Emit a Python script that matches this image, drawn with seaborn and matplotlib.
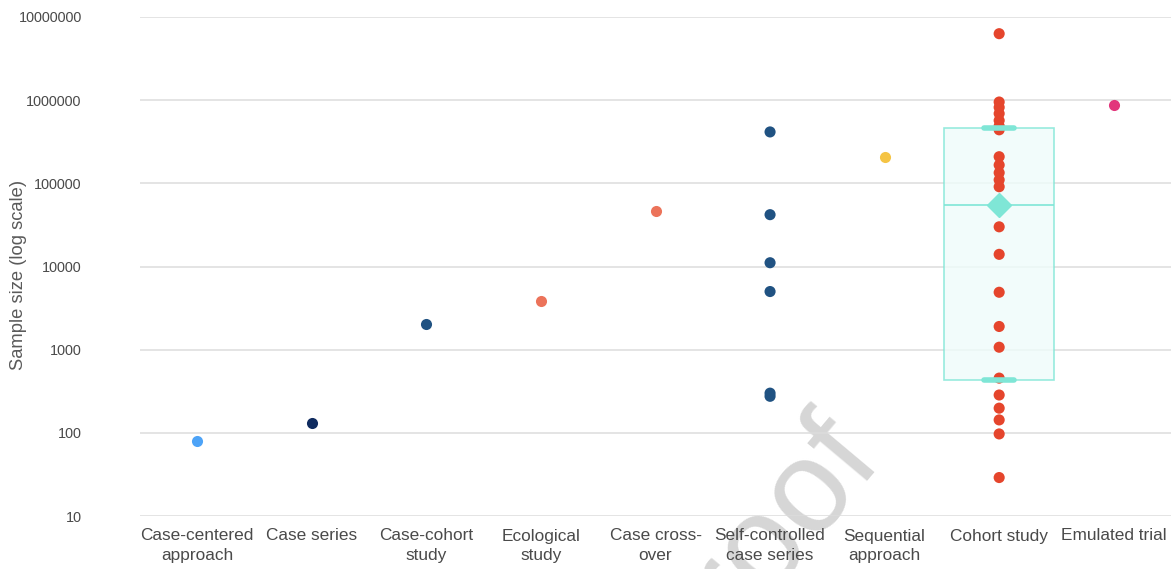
import pandas as pd
import matplotlib
matplotlib.use("Agg")
from matplotlib import pyplot as plt
import seaborn as sns

# Categories along the x axis
categories = ["Case-centered\napproach", "Case series", "Case-cohort\nstudy",
              "Ecological\nstudy", "Case cross-\nover", "Self-controlled\ncase series",
              "Sequential\napproach", "Cohort study", "Emulated trial"]

# Sample sizes (log scale)
case_centered = [80]
case_series = [130]
case_cohort = [2050]
ecological = [3900]
case_crossover = [46000]
self_controlled = [415000, 42000, 11100, 5000, 300, 275]
sequential = [209000]
cohort = [6300000, 950000, 820000, 690000, 570000, 490000, 440000,
          209000, 166000, 134000, 110000, 91000,
          30000, 14000, 4900, 1900, 1070, 455, 285, 198, 143, 97, 29]
emulated = [880000]

colors = ["#4da3f7", "#0f2b5f", "#205282", "#ec735a", "#ec735a",
          "#205282", "#f5c444", "#e5452c", "#e2357b"]

# cohort study box summary
box_q1 = 430
box_q3 = 460000
box_median = 55000
box_mean = 55000

groups = [case_centered, case_series, case_cohort, ecological, case_crossover,
          self_controlled, sequential, cohort, emulated]
df = pd.DataFrame({
    "design": [c for c, g in zip(categories, groups) for _ in g],
    "n": [v for g in groups for v in g],
})

sns.set_style("white")
plt.rcParams["font.family"] = ["Liberation Sans", "DejaVu Sans"]

fig = plt.figure(figsize=(11.72, 5.69), dpi=100)
ax = fig.add_axes([140 / 1172, 1 - 516 / 569, 1031 / 1172, 499 / 569])
ax.patch.set_visible(False)

# watermark
fig.text(885 / 1172, 1 - 462 / 569, "Journal Pre-proof", fontsize=94,
         color="#d6d6d6", rotation=50, rotation_mode="anchor",
         ha="right", va="baseline", zorder=-5)

sns.stripplot(data=df, x="design", y="n", hue="design", palette=colors,
              order=categories, jitter=False, size=8, linewidth=0,
              legend=False, ax=ax, zorder=3)

stats = [dict(med=box_median, q1=box_q1, q3=box_q3, whislo=box_q1,
              whishi=box_q3, mean=box_mean, fliers=[])]
turq = "#7fe6d6"
bp = ax.bxp(stats, positions=[categories.index("Cohort study")], widths=0.96,
            capwidths=0.26, showmeans=True, patch_artist=True, showfliers=False,
            boxprops=dict(facecolor="#effcfa", edgecolor=turq, linewidth=1.2, alpha=0.8),
            medianprops=dict(color=turq, linewidth=1.2),
            whiskerprops=dict(color=turq, linewidth=0),
            capprops=dict(color=turq, linewidth=4),
            meanprops=dict(marker="D", markerfacecolor=turq, markeredgecolor=turq,
                           markersize=12))
for b in bp["boxes"]:
    b.set_zorder(1)
for a in bp["caps"] + bp["medians"] + bp["means"]:
    a.set_zorder(4)

ax.set_yscale("log")
ax.set_ylim(10, 1e7)
ax.set_xlim(-0.5, len(categories) - 0.5)
ticks = [10, 100, 1000, 10000, 100000, 1000000, 10000000]
ax.set_yticks(ticks)
ax.set_yticklabels([str(t) for t in ticks])
ax.minorticks_off()
ax.set_xticks(range(len(categories)))
ax.set_xticklabels(categories)
ax.yaxis.grid(True, color="#dcdcdc", linewidth=1.1)
ax.set_axisbelow(True)
for s in ax.spines.values():
    s.set_visible(False)

ax.tick_params(axis="y", length=0, pad=42, labelsize=10.4, labelcolor="#4a4a4a")
ax.tick_params(axis="x", length=0, pad=9, labelsize=12.4, labelcolor="#4a4a4a")
for lab in ax.get_xticklabels():
    lab.set_linespacing(1.38)
ax.set_xlabel("")
ax.set_ylabel("Sample size (log scale)", fontsize=13.2, color="#5a5a5a")
ax.yaxis.set_label_coords(-113 / 1031, 0.483)

fig.savefig("out.png", dpi=100)
